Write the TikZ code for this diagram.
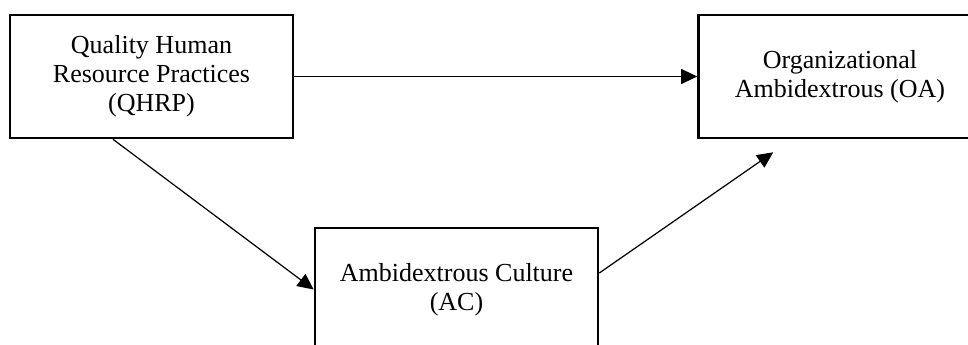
\documentclass[tikz,border=0pt]{standalone}
\usepackage{fontspec}
\setmainfont{Liberation Serif}
\usepackage{xcolor}
\usetikzlibrary{arrows.meta,calc}
\tikzset{
  box/.style={draw, line width=1.5pt, minimum width=5.66cm, minimum height=2.46cm,
    inner sep=0pt, align=center, font=\fontsize{14.8}{16.5}\selectfont},
  link/.style={line width=0.7pt, -{Triangle[length=0.32cm,width=0.3cm]}},
}

\begin{document}
\begin{tikzpicture}
  \useasboundingbox (0,0) rectangle (19.36,6.9);
  \clip (0,0) rectangle (19.36,6.9);

  \node[box] (QHRP) at (3.03,5.37) {Quality Human\\Resource Practices\\(QHRP)};
  \node[box] (OA)   at (16.8,5.37) {Organizational\\Ambidextrous (OA)};
  \node[box] (AC)   at (9.13,1.11) {Ambidextrous Culture\\(AC)};

  \coordinate (OAin) at ($(OA.south west)+(1.52,-0.26)$); % arrow stops short of OA

  \draw[link] (QHRP.east) -- (OA.west);
  \draw[link] ([xshift=-0.77cm]QHRP.south) -- (AC.west);
  \draw[link] ([yshift=0.33cm]AC.east) -- (OAin);
\end{tikzpicture}
\end{document}
